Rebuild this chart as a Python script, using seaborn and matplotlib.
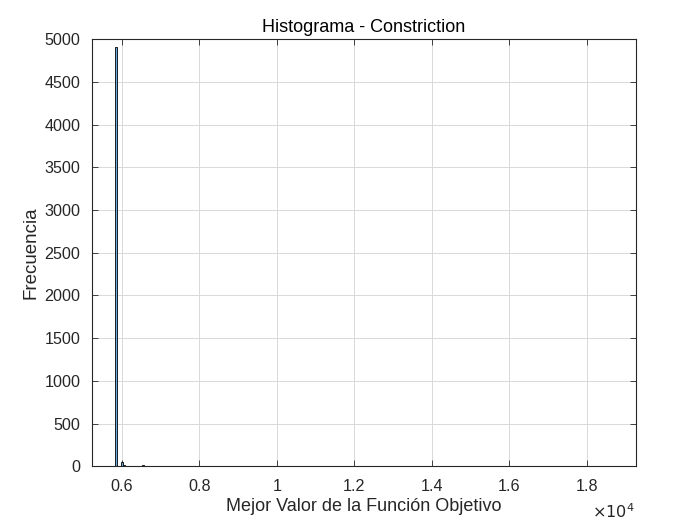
import numpy as np
import pandas as pd
import matplotlib
matplotlib.use('Agg')
import matplotlib.pyplot as plt
import seaborn as sb
from matplotlib.ticker import FuncFormatter

# Histogram: bin centres and counts
binCenters = [5870, 5975, 6050, 6545, 6800, 7400, 9100, 19200]
binCounts = [4914, 45, 10, 10, 1, 1, 1, 1]
binWidth = 50
xStart, xEnd = 5225, 19275

titleText = 'Histograma - Constriction'
xLabel = 'Mejor Valor de la Función Objetivo'
yLabel = 'Frecuencia'

histDF = pd.DataFrame({'value': binCenters, 'count': binCounts})

sb.set_theme(style='white')
plt.rcParams['font.family'] = ['Liberation Sans', 'DejaVu Sans']

fig = plt.figure(figsize=(7, 5.25), dpi=100)
ax = fig.add_axes([0.131, 0.112, 0.778, 0.813])

edges = list(np.arange(xStart, xEnd + 1, binWidth))
sb.histplot(data=histDF, x='value', weights='count', bins=edges, ax=ax,
            color=(0.4, 0.668, 0.845), alpha=1, edgecolor='black', linewidth=0.6)

ax.set_xlim(xStart, xEnd)
ax.set_ylim(0, 5000)
ax.set_xticks(np.arange(6000, 18001, 2000))
ax.set_yticks(np.arange(0, 5001, 500))
ax.xaxis.set_major_formatter(FuncFormatter(lambda v, p: f'{v / 1e4:g}'))

ax.grid(True, color='#d9d9d9', linewidth=0.7)
ax.set_axisbelow(True)
for s in ax.spines.values():
    s.set_color('#262626')
    s.set_linewidth(0.8)
ax.tick_params(direction='in', length=4, width=0.6, colors='#262626',
               labelsize=11.6, top=True, right=True, bottom=True, left=True,
               labeltop=False, labelright=False, labelcolor='#262626')
ax.tick_params(axis='x', pad=9)
ax.tick_params(axis='y', pad=8)

ax.set_title(titleText, fontsize=13, color='black', pad=5.5)
ax.set_xlabel(xLabel, fontsize=13, color='#262626', labelpad=3)
ax.set_ylabel(yLabel, fontsize=13.5, color='#262626', labelpad=4)
fig.text(0.906, 0.013, r'$\times 10^4$', fontsize=11.6, color='#262626', ha='right')

fig.savefig('out.png', dpi=100, facecolor='white')
